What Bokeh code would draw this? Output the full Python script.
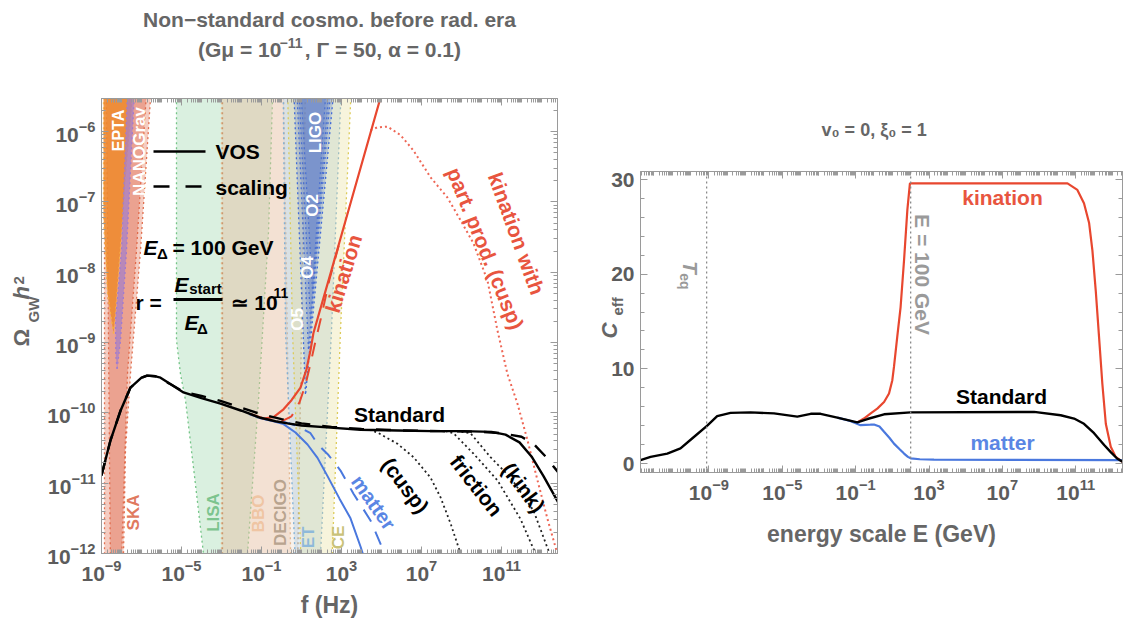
import numpy as np
from bokeh.plotting import figure
from bokeh.models import (Range1d, FixedTicker, LogAxis, LinearAxis, Label, Span, Title, Spacer,
                          CustomJSTickFormatter)
from bokeh.layouts import row, column
from bokeh.embed import file_html
from bokeh.resources import INLINE

FONT = "Liberation Sans"
TICK_GRAY = "#5c5c5c"
LABEL_GRAY = "#666666"
FRAME_GRAY = "#9a9a9a"
RED = "#E8472F"
RED_TXT = "#E8553F"
BLUE = "#4A78DE"
BLUE_TXT = "#5A86E4"
NBSP = "\u00a0"

# ---------------- left panel: Omega_GW h^2 vs f (log10 values) ----------------
std_lf = [-9.0, -8.55, -8.05, -7.55, -7.0, -6.72, -6.3, -6.05, -5.5, -4.9, -4.0, -3.05, -2.0,
          -1.05, -0.3, 0.3, 1.0, 2.45, 3.95, 5.8, 7.5, 9.1, 10.5, 11.2, 11.9, 12.5, 13.1, 13.85]
std_lo = [-10.89, -10.39, -9.97, -9.64, -9.5, -9.47, -9.48, -9.5, -9.6, -9.71, -9.79, -9.87, -9.97,
          -10.07, -10.12, -10.15, -10.18, -10.21, -10.24, -10.25, -10.26, -10.26, -10.27, -10.31,
          -10.42, -10.62, -10.9, -11.28]

scal_lf = [-9.0, -8.55, -8.05, -7.55, -7.0, -6.72, -6.3, -5.5, -4.9, -4.0, -3.05, -2.0, -1.0, 0.0,
           1.0, 2.5, 4.0, 6.0, 8.0, 10.0, 11.0, 12.0, 12.6, 13.2, 13.85]
scal_lo = [-10.89, -10.39, -9.97, -9.64, -9.5, -9.47, -9.48, -9.6, -9.7, -9.76, -9.83, -9.93, -10.02,
           -10.09, -10.15, -10.2, -10.23, -10.25, -10.26, -10.27, -10.29, -10.34, -10.44, -10.62,
           -10.85]

kin_lf = [-1.5, -0.9, -0.4, 0.1, 0.5, 0.95, 1.25, 1.45, 1.6, 2.5, 3.5, 5.0, 5.6]
kin_lo = [-10.02, -10.08, -10.06, -9.95, -9.82, -9.64, -9.38, -9.11, -8.86, -7.97, -6.97, -5.47, -4.9]

kin_scal_lf = [0.0, 0.5, 0.9, 1.2, 1.45, 1.7, 2.0, 2.4, 3.0]
kin_scal_lo = [-10.12, -10.05, -9.85, -9.6, -9.3, -8.98, -8.62, -8.1, -7.48]

mat_lf = [-1.6, -1.0, -0.4, 0.1, 0.7, 1.3, 1.8, 2.3, 2.9, 3.45, 3.95, 4.4]
mat_lo = [-10.02, -10.08, -10.12, -10.16, -10.28, -10.45, -10.64, -10.9, -11.22, -11.5, -11.9, -12.3]

mat_scal_lf = [0.0, 0.5, 0.95, 1.45, 1.85, 2.35, 2.95, 3.6, 4.45, 5.1, 5.5]
mat_scal_lo = [-10.12, -10.16, -10.21, -10.29, -10.46, -10.6, -10.82, -11.15, -11.53, -11.96, -12.3]

pp_cusp_lf = [4.4, 4.8, 5.8, 6.6, 7.45, 7.95, 8.45, 8.95, 9.1]
pp_cusp_lo = [-10.24, -10.28, -10.44, -10.63, -10.92, -11.2, -11.57, -12.0, -12.15]

pp_fric_lf = [8.2, 8.6, 9.6, 10.8, 11.95, 12.7, 12.85]
pp_fric_lo = [-10.26, -10.29, -10.58, -10.96, -11.51, -12.0, -12.15]

pp_kink_lf = [9.0, 9.45, 10.45, 11.45, 12.6, 13.35, 13.5]
pp_kink_lo = [-10.27, -10.29, -10.63, -10.92, -11.39, -11.96, -12.1]

kin_pp_lf = [4.45, 4.8, 5.3, 5.95, 6.6, 7.45, 8.3, 8.95, 9.6, 10.3, 10.8, 11.3, 11.8, 12.3, 12.8,
             13.3, 13.7, 13.9]
kin_pp_lo = [-5.98, -5.94, -5.93, -6.05, -6.27, -6.65, -6.94, -7.26, -7.59, -8.12, -8.83, -9.45,
             -9.87, -10.39, -10.96, -11.51, -11.91, -12.1]

# experimental sensitivity regions: boundaries listed top -> bottom (log10 f, log10 Omega)
ska_out_l_lf = [-8.85, -8.85];                    ska_out_l_lo = [-5.3, -12.3]
ska_out_r_lf = [-6.45, -6.55, -7.05, -7.55, -7.8, -7.92]
ska_out_r_lo = [-5.3, -5.53, -7.69, -9.44, -10.53, -12.3]
ska_in_l_lf = [-8.76, -8.55];                     ska_in_l_lo = [-5.3, -12.3]
ska_in_r_lf = [-6.72, -7.25, -7.7, -8.02];        ska_in_r_lo = [-5.3, -7.69, -9.44, -12.3]

epta_l_lf = [-8.9, -8.9, -8.7, -8.4];             epta_l_lo = [-5.3, -7.2, -8.3, -8.87]
epta_r_lf = [-7.42, -7.45, -7.8, -8.05, -8.3, -8.4]
epta_r_lo = [-5.3, -5.56, -6.69, -7.65, -8.59, -8.87]

nano_l_lf = [-7.68, -8.0, -8.3, -8.28, -8.22];    nano_l_lo = [-5.3, -7.69, -8.69, -9.2, -9.38]
nano_r_lf = [-7.33, -7.75, -8.05, -8.22];         nano_r_lo = [-5.3, -7.69, -8.97, -9.38]

lisa_l_lf = [-5.25, -5.25, -5.05, -4.8, -4.35, -3.78]
lisa_l_lo = [-5.3, -8.97, -9.45, -9.82, -10.9, -12.3]
lisa_r_lf = [-0.43, -0.45, -0.65, -1.15, -1.7, -1.8]
lisa_r_lo = [-5.3, -5.53, -7.43, -9.82, -12.0, -12.3]

bbo_l_lf = [-3.0, -3.0];     bbo_l_lo = [-5.3, -12.3]
bbo_r_lf = [0.1, 0.47];      bbo_r_lo = [-5.3, -12.3]
decigo_l_lf = [-2.95, -2.95]; decigo_l_lo = [-5.3, -12.3]
decigo_r_lf = [1.2, 0.8];     decigo_r_lo = [-5.3, -12.3]

et_l_lf = [0.08, 0.2, 0.72];  et_l_lo = [-5.3, -8.83, -12.3]
et_r_lf = [3.0, 2.5, 1.9];    et_r_lo = [-5.3, -8.83, -12.3]
ce_l_lf = [0.3, 0.55, 1.0];   ce_l_lo = [-5.3, -8.83, -12.3]
ce_r_lf = [3.5, 2.95, 2.5];   ce_r_lo = [-5.3, -8.83, -12.3]

# LIGO observing runs O2, O3, O4, O5 (wedges closing at the tip)
ligo_runs = ["O2", "O3", "O4", "O5"]
ligo_top_lo = -5.3
ligo_left_lf = [0.95, 0.85, 0.75, 0.6]
ligo_right_lf = [2.25, 2.4, 2.5, 2.65]
ligo_tip_lf = [1.55, 1.45, 1.35, 1.2]
ligo_tip_lo = [-8.26, -8.69, -9.11, -9.75]

# ---------------- right panel: C_eff vs energy scale ----------------
c_std_lE = [-12.73, -12.18, -11.27, -10.55, -9.82, -9.09, -8.55, -7.82, -6.73, -5.45, -4.18, -3.45,
            -2.91, -2.0, -0.91, -0.36, 0.55, 2.0, 8.73, 10.18, 10.91, 11.45, 12.0, 12.55, 12.91,
            13.27, 13.55]
c_std = [0.35, 0.7, 1.05, 1.6, 2.8, 4.0, 5.0, 5.35, 5.4, 5.3, 4.95, 5.25, 5.25, 4.85, 4.35, 4.7,
         5.2, 5.4, 5.45, 5.1, 4.75, 4.2, 3.2, 1.95, 1.2, 0.5, 0.2]

c_mat_lE = [-2.0, -1.3, -0.73, -0.2, 0.0, 0.3, 0.55, 0.85, 1.09, 1.4, 1.64, 1.85, 2.0, 2.5, 3.27,
            13.55]
c_mat = [4.85, 4.5, 4.05, 4.1, 4.12, 3.9, 3.35, 2.7, 2.1, 1.5, 1.05, 0.7, 0.55, 0.45, 0.42, 0.35]

c_kin_lE = [-0.91, -0.55, -0.18, 0.18, 0.55, 0.82, 1.0, 1.09, 1.27, 1.45, 1.64, 1.82, 1.96, 2.36,
            10.55, 11.09, 11.45, 11.73, 11.91, 12.09, 12.27, 12.45, 12.64, 12.91, 13.18, 13.55]
c_kin = [4.35, 4.75, 5.3, 5.8, 6.5, 7.4, 8.8, 10.2, 13.4, 16.5, 21.5, 26.8, 29.6, 29.6, 29.6, 28.9,
         27.5, 25.4, 22.5, 18.3, 13.4, 8.45, 4.2, 1.76, 0.7, 0.18]

T_EQ_GEV = 7.5e-10
E_DELTA_GEV = 100.0

# ---------------- geometry of the two frames ----------------
LX = (-9.0, 13.8)
LY = (-12.0, -5.53)
LBOX = (101, 557, 98, 553)        # left, right, top, bottom (page pixels)
RX = (-12.73, 13.55)
RY = (-0.95, 30.85)
RBOX = (640, 1122, 171, 472)
LEFT_FIG_W = 580
BORDER_TOP = 98
R_SHIFT = RBOX[2] - BORDER_TOP     # vertical gap above the right figure
R_BOTTOM = 80


def pw(a):
    return np.power(10.0, np.asarray(a, dtype=float))


def left_pt(px, py):
    fx = LX[0] + (px - LBOX[0]) / (LBOX[1] - LBOX[0]) * (LX[1] - LX[0])
    fy = LY[0] + (LBOX[3] - py) / (LBOX[3] - LBOX[2]) * (LY[1] - LY[0])
    return 10 ** fx, 10 ** fy


def right_pt(px, py):
    ex = RX[0] + (px - RBOX[0]) / (RBOX[1] - RBOX[0]) * (RX[1] - RX[0])
    cy = RY[0] + (RBOX[3] - py) / (RBOX[3] - RBOX[2]) * (RY[1] - RY[0])
    return 10 ** ex, cy


def put(p, xy, text, size, color, angle=0.0, style="bold", align="center", baseline="middle"):
    p.add_layout(Label(x=xy[0], y=xy[1], text=text, text_font=FONT,
                       text_font_size=f"{size}px", text_font_style=style, text_color=color,
                       angle=float(np.deg2rad(angle)), text_align=align,
                       text_baseline=baseline))


def side_text(p, side, text, size, offset, standoff, style="bold", color=LABEL_GRAY,
              align="left", valign="bottom"):
    p.add_layout(Title(text=text, align=align, offset=offset, vertical_align=valign,
                       standoff=standoff, text_font=FONT, text_font_size=f"{size}px",
                       text_font_style=style, text_color=color), side)


def style_axis(ax, label_size="21px"):
    ax.axis_line_color = FRAME_GRAY
    ax.major_tick_line_color = FRAME_GRAY
    ax.minor_tick_line_color = FRAME_GRAY
    ax.major_tick_in = 7
    ax.major_tick_out = 0
    ax.minor_tick_in = 4
    ax.minor_tick_out = 0
    ax.major_label_text_font = FONT
    ax.major_label_text_font_size = label_size
    ax.major_label_text_font_style = "bold"
    ax.major_label_text_color = TICK_GRAY
    ax.major_label_standoff = 6
    ax.axis_label_text_font = FONT
    ax.axis_label_text_font_size = "23px"
    ax.axis_label_text_font_style = "bold"
    ax.axis_label_text_color = LABEL_GRAY


blank = CustomJSTickFormatter(code="return ''")


def log_ticker(first, last, step):
    major = [10.0 ** k for k in range(first, last + 1, step)]
    minor = [m * 10.0 ** k for k in range(first - 5, last + 5) for m in range(1, 10)]
    return FixedTicker(ticks=major, minor_ticks=minor)


def band(p, l_lf, l_lo, r_lf, r_lo, color, alpha, edge, dash="2 3", width=1.3):
    xs = list(l_lf) + list(r_lf)[::-1]
    ys = list(l_lo) + list(r_lo)[::-1]
    p.patch(pw(xs), pw(ys), fill_color=color, fill_alpha=alpha, line_color=None)
    if edge is not None:
        p.line(pw(l_lf), pw(l_lo), line_color=edge, line_dash=dash, line_width=width)
        p.line(pw(r_lf), pw(r_lo), line_color=edge, line_dash=dash, line_width=width)


# =============================== left figure ===============================
p1 = figure(title=None, x_axis_type="log", y_axis_type="log",
            x_range=Range1d(10 ** LX[0], 10 ** LX[1]), y_range=Range1d(10 ** LY[0], 10 ** LY[1]),
            frame_width=LBOX[1] - LBOX[0], frame_height=LBOX[3] - LBOX[2],
            min_border_left=LBOX[0], min_border_right=LEFT_FIG_W - LBOX[1],
            min_border_top=BORDER_TOP, min_border_bottom=630 - LBOX[3],
            output_backend="svg", toolbar_location=None)
p1.grid.visible = False
p1.outline_line_color = FRAME_GRAY
p1.background_fill_color = "white"
p1.border_fill_color = "white"

p1.xaxis.ticker = log_ticker(-9, 13, 4)
p1.yaxis.ticker = log_ticker(-12, -6, 1)
p1.xaxis.axis_label = "f (Hz)"
style_axis(p1.xaxis[0])
style_axis(p1.yaxis[0])
p1.xaxis.axis_label_standoff = 8
top1 = LogAxis(ticker=log_ticker(-9, 13, 4), formatter=blank)
right1 = LogAxis(ticker=log_ticker(-12, -6, 1), formatter=blank)
style_axis(top1)
style_axis(right1)
top1.major_label_standoff = 0
# second title line; the gap after "10" holds the raised exponent drawn separately
top1.axis_label = "(Gμ = 10" + NBSP * 4 + ", Γ = 50, α = 0.1)"
top1.axis_label_standoff = 38
top1.axis_label_text_font_size = "21px"
p1.add_layout(top1, "above")
p1.add_layout(right1, "right")
side_text(p1, "above", "Non−standard cosmo. before rad. era", 21, 0, 8, align="center")
side_text(p1, "above", "−11", 14, 178, -93)

# y-axis label  Omega_GW h^2 , built from pieces stacked left of the tick labels
side_text(p1, "left", "GW", 15, 231, 5)
side_text(p1, "left", "Ω", 22, 207, -27)
side_text(p1, "left", "h", 22, 254, -27, style="bold italic")
side_text(p1, "left", "2", 15, 269, -7)

# sensitivity regions
band(p1, ska_out_l_lf, ska_out_l_lo, ska_out_r_lf, ska_out_r_lo, "#E8866C", 0.42, "#E07050")
band(p1, ska_in_l_lf, ska_in_l_lo, ska_in_r_lf, ska_in_r_lo, "#E06F55", 0.45, "#E06A4A")
band(p1, epta_l_lf, epta_l_lo, epta_r_lf, epta_r_lo, "#EF8A2C", 0.85, "#F6B24A")
band(p1, nano_l_lf, nano_l_lo, nano_r_lf, nano_r_lo, "#A77FC7", 0.75, "#9F7BD0")
band(p1, lisa_l_lf, lisa_l_lo, lisa_r_lf, lisa_r_lo, "#8ED1A0", 0.33, "#74C487")
band(p1, bbo_l_lf, bbo_l_lo, bbo_r_lf, bbo_r_lo, "#F2C9A8", 0.35, "#E8B890")
band(p1, decigo_l_lf, decigo_l_lo, decigo_r_lf, decigo_r_lo, "#D9B79A", 0.2, "#C89A70")
band(p1, et_l_lf, et_l_lo, et_r_lf, et_r_lo, "#8DB8D6", 0.28, "#7FB0D8")
band(p1, ce_l_lf, ce_l_lo, ce_r_lf, ce_r_lo, "#E3DA8A", 0.3, "#DCCB5A")
for i in range(len(ligo_runs)):
    band(p1, [ligo_left_lf[i], ligo_tip_lf[i]], [ligo_top_lo, ligo_tip_lo[i]],
         [ligo_right_lf[i], ligo_tip_lf[i]], [ligo_top_lo, ligo_tip_lo[i]],
         "#5577C8", 0.28, "#3F6AD8")

# spectra
p1.line(pw(kin_pp_lf), pw(kin_pp_lo), line_color="#EE6655", line_dash="2 3", line_width=2)
for lf, lo in ((pp_cusp_lf, pp_cusp_lo), (pp_fric_lf, pp_fric_lo), (pp_kink_lf, pp_kink_lo)):
    p1.line(pw(lf), pw(lo), line_color="#222222", line_dash="2 3", line_width=1.8)
p1.line(pw(mat_scal_lf), pw(mat_scal_lo), line_color=BLUE, line_dash="14 11", line_width=2)
p1.line(pw(mat_lf), pw(mat_lo), line_color=BLUE, line_width=2)
p1.line(pw(kin_scal_lf), pw(kin_scal_lo), line_color=RED, line_dash="14 11", line_width=2)
p1.line(pw(kin_lf), pw(kin_lo), line_color=RED, line_width=2.2)
p1.line(pw(scal_lf), pw(scal_lo), line_color="black", line_dash="15 12", line_width=2.4)
p1.line(pw(std_lf), pw(std_lo), line_color="black", line_width=2.4)

# region names
put(p1, left_pt(118, 130), "EPTA", 16, "white", 90)
put(p1, left_pt(139, 151), "NANOGrav", 17, "white", 90)
put(p1, left_pt(133, 512), "SKA", 17, "#E07A5F", 90)
put(p1, left_pt(213, 512), "LISA", 17, "#7CC48E", 90)
put(p1, left_pt(258, 513), "BBO", 17, "#EFC5A3", 90)
put(p1, left_pt(280, 512), "DECIGO", 17, "#B8A48F", 90)
put(p1, left_pt(308, 537), "ET", 17, "#8EB9DA", 90)
put(p1, left_pt(338, 537), "CE", 17, "#C9C27A", 90)
put(p1, left_pt(315, 132), "LIGO", 17, "white", 90)
put(p1, left_pt(312, 205), "O2", 17, "white", 90)
put(p1, left_pt(307, 267), "O4", 17, "white", 90)
put(p1, left_pt(297, 319), "O5", 17, "white", 90)

# legend for the line styles
a, b = left_pt(153, 151), left_pt(205, 151)
p1.line([a[0], b[0]], [a[1], b[1]], line_color="black", line_width=2.5)
a, b = left_pt(153, 186), left_pt(201, 186)
p1.line([a[0], b[0]], [a[1], b[1]], line_color="black", line_width=2.5, line_dash="16 16")
put(p1, left_pt(215, 151), "VOS", 21, "black", align="left")
put(p1, left_pt(215, 187), "scaling", 21, "black", align="left")

# E_Delta and r annotations
put(p1, left_pt(150, 247), "E", 21, "black", style="bold italic")
put(p1, left_pt(162, 253), "Δ", 15, "black")
put(p1, left_pt(172, 247), "= 100 GeV", 21, "black", align="left")
put(p1, left_pt(135, 302), "r =", 21, "black", align="left")
a, b = left_pt(173, 299), left_pt(222, 299)
p1.line([a[0], b[0]], [a[1], b[1]], line_color="black", line_width=3)
put(p1, left_pt(181, 284), "E", 21, "black", style="bold italic")
put(p1, left_pt(205, 288), "start", 15, "black")
put(p1, left_pt(191, 322), "E", 21, "black", style="bold italic")
put(p1, left_pt(202, 328), "Δ", 15, "black")
put(p1, left_pt(230, 302), "≃ 10", 21, "black", align="left")
put(p1, left_pt(273, 292), "11", 14, "black", align="left")

# curve labels
put(p1, left_pt(399, 414), "Standard", 21, "black")
put(p1, left_pt(343, 273), "kination", 21, RED_TXT, 73)
put(p1, left_pt(516, 233), "kination with", 21, RED_TXT, -70)
put(p1, left_pt(485, 248), "part. prod. (cusp)", 21, RED_TXT, -68)
put(p1, left_pt(373, 502), "matter", 20, BLUE_TXT, -55)
put(p1, left_pt(405, 485), "(cusp)", 21, "black", -53)
put(p1, left_pt(476, 485), "friction", 21, "black", -52)
put(p1, left_pt(523, 487), "(kink)", 21, "black", -53)

# =============================== right figure ===============================
p2 = figure(title=None, x_axis_type="log",
            x_range=Range1d(10 ** RX[0], 10 ** RX[1]), y_range=Range1d(RY[0], RY[1]),
            frame_width=RBOX[1] - RBOX[0], frame_height=RBOX[3] - RBOX[2],
            min_border_left=RBOX[0] - LEFT_FIG_W, min_border_right=1132 - RBOX[1],
            min_border_top=BORDER_TOP, min_border_bottom=R_BOTTOM,
            output_backend="svg", toolbar_location=None)
p2.grid.visible = False
p2.outline_line_color = FRAME_GRAY
p2.background_fill_color = "white"
p2.border_fill_color = "white"

p2.xaxis.ticker = log_ticker(-9, 11, 4)
p2.yaxis.ticker = FixedTicker(ticks=[0, 10, 20, 30], minor_ticks=list(range(-2, 32, 2)))
p2.xaxis.axis_label = "energy scale E (GeV)"
style_axis(p2.xaxis[0])
style_axis(p2.yaxis[0])
p2.xaxis.axis_label_standoff = 18
top2 = LogAxis(ticker=log_ticker(-9, 11, 4), formatter=blank)
right2 = LinearAxis(ticker=FixedTicker(ticks=[0, 10, 20, 30], minor_ticks=list(range(-2, 32, 2))),
                    formatter=blank)
style_axis(top2)
style_axis(right2)
top2.major_label_standoff = 0
p2.add_layout(top2, "above")
p2.add_layout(right2, "right")
side_text(p2, "above", "v₀ = 0, ξ₀ = 1", 18, 181, 64)

# y-axis label C_eff
side_text(p2, "left", "C", 22, 134, -27, style="bold italic")
side_text(p2, "left", "eff", 15, 157, -34)

for loc in (T_EQ_GEV, E_DELTA_GEV):
    p2.add_layout(Span(location=loc, dimension="height", line_color="#8a8a8a",
                       line_dash="2 3", line_width=1.3))

p2.line(pw(c_kin_lE), c_kin, line_color=RED, line_width=2.2)
p2.line(pw(c_mat_lE), c_mat, line_color=BLUE, line_width=2.2)
p2.line(pw(c_std_lE), c_std, line_color="black", line_width=2.4)

put(p2, right_pt(1002, 197), "kination", 21, RED_TXT)
put(p2, right_pt(1001, 396), "Standard", 21, "black")
put(p2, right_pt(1002, 442), "matter", 21, BLUE_TXT)
put(p2, right_pt(922, 274), "E = 100 GeV", 21, "#9a9a9a", -90)
put(p2, right_pt(690, 267), "T", 21, "#9a9a9a", -90, style="bold italic")
put(p2, right_pt(684, 281), "eq", 14, "#9a9a9a", -90)

right_col = column(Spacer(width=1132 - LEFT_FIG_W, height=R_SHIFT), p2,
                   Spacer(width=1132 - LEFT_FIG_W, height=630 - R_SHIFT - BORDER_TOP
                          - (RBOX[3] - RBOX[2]) - R_BOTTOM))
layout = row(p1, right_col, spacing=0)
open("out.html", "w").write(file_html(layout, INLINE))
